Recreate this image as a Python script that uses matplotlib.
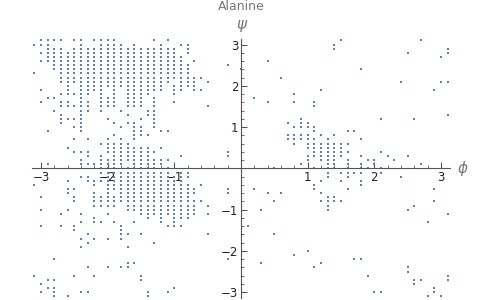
import numpy as np
import matplotlib
matplotlib.use("Agg")
import matplotlib.pyplot as plt
from matplotlib.ticker import MultipleLocator, FixedLocator

title = "Alanine"
x_label = "ϕ"
y_label = "ψ"
tick_values = [-3, -2, -1, 1, 2, 3]
tick_labels = ["−3", "−2", "−1", "1", "2", "3"]

# psi value -> list of phi values (data rounded to 0.1 rad)
rows = {
    3.1: [-3.0, -2.9, -2.8, -2.7, -2.5, -2.4, -2.2, -2.1, -2.0, -1.9, -1.3, -1.1, 1.5, 2.7],
    3.0: [-3.1, -3.0, -2.9, -2.4, -2.1, -2.0, -1.9, -1.8, -1.6, -1.2, -0.9, -0.8, 1.4],
    2.9: [-2.9, -2.8, -2.7, -2.5, -2.4, -2.3, -2.2, -2.1, -2.0, -1.9, -1.8, -1.7, -1.6, -1.5,
          -1.4, -1.3, -1.2, -1.1, -1.0, -0.8, 1.4, 3.1],
    2.8: [-3.0, -2.9, -2.8, -2.7, -2.6, -2.5, -2.4, -2.3, -2.2, -2.1, -2.0, -1.9, -1.8, -1.7,
          -1.6, -1.5, -1.4, -1.3, -1.2, -1.1, -1.0, -0.8, 2.5, 3.1],
    2.7: [-2.9, -2.8, -2.7, -2.6, -2.5, -2.4, -2.3, -2.2, -2.1, -2.0, -1.9, -1.8, -1.7, -1.6,
          -1.5, -1.4, -1.3, -1.2, -1.1, -1.0, -0.9, 3.0],
    2.6: [-3.0, -2.9, -2.8, -2.7, -2.6, -2.5, -2.4, -2.3, -2.2, -2.1, -2.0, -1.9, -1.8, -1.7,
          -1.6, -1.5, -1.4, -1.3, -1.2, -1.1, -1.0, -0.9, -0.7, 0.4],
    2.5: [-2.8, -2.7, -2.6, -2.5, -2.4, -2.3, -2.2, -2.1, -2.0, -1.9, -1.8, -1.7, -1.6, -1.5,
          -1.4, -1.3, -1.2, -1.1, -1.0, -0.9, -0.8, -0.2],
    2.4: [-2.8, -2.7, -2.6, -2.5, -2.4, -2.3, -2.2, -2.1, -2.0, -1.9, -1.8, -1.7, -1.6, -1.5,
          -1.4, -1.3, -1.2, -1.1, -1.0, -0.9, -0.8, 0.0, 1.8],
    2.3: [-3.1, -2.7, -2.6, -2.5, -2.4, -2.3, -2.2, -2.1, -2.0, -1.9, -1.8, -1.7, -1.6, -1.5,
          -1.4, -1.3, -1.2, -1.1, -1.0, -0.9, -0.8],
    2.2: [-2.7, -2.6, -2.5, -2.4, -2.3, -2.2, -2.1, -2.0, -1.9, -1.8, -1.7, -1.6, -1.5, -1.4,
          -1.3, -1.2, -1.1, -1.0, -0.9, -0.8, -0.7, -0.6, 0.6],
    2.1: [-2.7, -2.6, -2.5, -2.4, -2.3, -2.2, -2.1, -2.0, -1.9, -1.8, -1.7, -1.6, -1.5, -1.4,
          -1.3, -1.2, -1.1, -0.9, -0.8, -0.7, -0.5, 2.4, 3.0, 3.1],
    2.0: [-2.6, -2.4, -2.3, -2.2, -2.1, -2.0, -1.9, -1.8, -1.7, -1.6, -1.5, -1.4, -1.3, -1.2,
          -1.0, -0.9, -0.8, -0.7],
    1.9: [-3.0, -2.6, -2.4, -2.3, -2.2, -2.1, -1.9, -1.7, -1.6, -1.5, -1.4, -1.3, -1.2, -1.0,
          -0.9, -0.7, -0.6, 1.2, 2.9],
    1.8: [-2.7, -2.6, -2.5, -2.4, -2.3, -2.1, -1.9, -1.7, -1.6, -1.5, -1.4, -1.0, 0.8],
    1.7: [-2.9, -2.8, -2.4, -2.1, -2.0, -1.9, -1.7, -1.6, -1.5, -1.3, 0.2],
    1.6: [-3.0, -2.7, -2.6, -2.4, -2.3, -2.1, -2.0, -1.9, -1.7, -1.6, -1.5, -1.3, -1.0, 0.4,
          0.8, 1.1],
    1.5: [-2.7, -2.6, -2.5, -2.4, -2.3, -2.1, -2.0, -1.9, -1.7, -1.6, -1.5, -1.3, -0.5, 1.1],
    1.4: [-2.8, -2.4, -2.3, -2.1, -1.8, -1.4, -1.3],
    1.3: [-2.7, -2.4, -1.7, -1.4, -1.3, 3.1],
    1.2: [-2.7, -2.6, -2.5, -2.4, -2.0, -1.5, -1.3, 0.9, 2.1, 2.6],
    1.1: [-2.7, -2.4, -1.9, -1.7, -1.6, -1.3, 0.7, 0.9, 1.0],
    1.0: [-2.5, -2.4, -1.8, -1.6, -1.5, -1.3, 0.8, 0.9, 1.0, 1.1],
    0.9: [-2.9, -2.4, -1.6, -1.5, -1.2, -1.1, -0.1, 1.1, 1.6, 1.7],
    0.8: [-1.9, -1.6, -1.5, -1.4, 0.7, 0.8, 0.9, 1.0, 1.2, 1.4],
    0.7: [-2.5, -2.3, -2.0, -1.8, -1.6, 0.7, 0.8, 0.9, 1.0, 1.1, 1.3, 1.8],
    0.6: [-2.1, -2.0, -1.9, -1.8, -1.7, 0.8, 1.0, 1.1, 1.2, 1.3, 1.4, 1.5, 1.6],
    0.5: [-2.6, -2.0, -1.9, -1.8, -1.7, -1.6, -1.5, -1.4, -1.2, 1.0, 1.1, 1.2, 1.3, 1.4, 1.5],
    0.4: [-2.5, -2.4, -2.3, -2.0, -1.9, -1.8, -1.7, -1.6, -1.5, -1.4, -1.3, -0.2, 1.1, 1.2,
          1.3, 1.4, 1.5, 1.6, 2.1],
    0.3: [-2.3, -2.1, -1.9, -1.8, -1.7, -1.6, -1.5, -1.4, -0.9, -0.2, 1.0, 1.1, 1.2, 1.3,
          1.4, 1.5, 1.8, 2.2, 2.5],
    0.2: [-2.4, -2.1, -2.0, -1.9, -1.8, -1.7, -1.6, -1.5, -1.4, -1.3, -1.2, -1.1, 1.0, 1.2,
          1.3, 1.4, 1.6, 1.9, 2.0, 2.3],
    0.1: [-2.9, -2.4, -2.3, -2.2, -2.1, -2.0, -1.9, -1.8, -1.6, -1.5, -1.4, -1.3, -1.2, 0.9,
          1.3, 1.4, 1.6, 1.8, 2.0, 2.7],
    0.0: [-2.1, -2.0, -1.9, -1.7, -1.6, -1.5, -1.4, -1.3, -1.1, 0.5, 1.1, 1.3, 1.4, 1.6,
          1.8, 1.9, 2.1],
    -0.1: [-2.1, -2.0, -1.9, -1.8, -1.7, -1.6, -1.5, -1.4, -1.3, -1.2, -1.1, -0.9, -0.8, 1.3,
           1.5, 1.6, 1.7, 1.8, 2.1],
    -0.2: [-2.4, -2.3, -2.0, -1.9, -1.8, -1.7, -1.6, -1.5, -1.4, -1.3, -1.2, -1.1, -1.0, -0.9,
           -0.8, 1.3, 1.6, 2.4],
    -0.3: [-2.6, -2.3, -2.2, -2.1, -2.0, -1.9, -1.8, -1.7, -1.6, -1.5, -1.4, -1.3, -1.2, -1.1,
           -1.0, -0.9, 1.2, 1.5, 1.8],
    -0.4: [-3.1, -2.2, -2.0, -1.9, -1.8, -1.7, -1.6, -1.5, -1.4, -1.3, -1.2, -1.1, -1.0, -0.9,
           -0.8, -0.6, 1.1, 1.8],
    -0.5: [-2.6, -2.5, -2.0, -1.9, -1.8, -1.7, -1.6, -1.5, -1.4, -1.3, -1.2, -1.1, -1.0, -0.9,
           -0.8, -0.7, -0.2, 0.2, 1.1, 1.6, 2.9],
    -0.6: [-2.6, -2.2, -2.0, -1.8, -1.7, -1.6, -1.5, -1.4, -1.3, -1.2, -1.1, -1.0, -0.9, -0.8,
           -0.7, -0.2, 0.4, 0.6, 1.2],
    -0.7: [-3.0, -2.5, -2.2, -2.1, -2.0, -1.9, -1.8, -1.7, -1.6, -1.5, -1.4, -1.3, -1.2, -1.1,
           -1.0, -0.9, -0.8, 1.3, 1.4],
    -0.8: [-2.5, -2.2, -2.1, -2.0, -1.9, -1.8, -1.7, -1.6, -1.5, -1.4, -1.3, -1.2, -1.1, -1.0,
           -0.9, -0.8, -0.7, -0.6, 0.5, 1.2, 1.3, 1.4, 1.5, 2.9],
    -0.9: [-2.2, -2.1, -2.0, -1.9, -1.7, -1.6, -1.5, -1.4, -1.3, -1.2, -1.1, -1.0, -0.9, -0.8,
           -0.7, -0.5, 1.3, 2.6],
    -1.0: [-3.0, -2.6, -1.7, -1.6, -1.5, -1.4, -1.3, -1.2, -1.1, -1.0, -0.9, -0.8, -0.7, 0.3,
           1.3, 2.5],
    -1.1: [-2.7, -2.4, -2.0, -1.5, -1.4, -1.3, -1.2, -1.1, -1.0, -0.9, -0.8, -0.7, -0.5, 3.1],
    -1.2: [-2.2, -1.4, -1.2, -1.0, -0.9, -0.8],
    -1.3: [-2.4, -2.2, -2.1, -1.9, -1.6, -1.2, -1.0, 2.8],
    -1.4: [-3.0, -2.7, -2.5, -1.8, -1.1, -1.0, -0.9, 0.1],
    -1.5: [-2.5, -1.8],
    -1.6: [-2.3, -1.8, -1.7, -1.5, -0.5, 0.5],
    -1.7: [-2.4, -2.2, -2.0, -1.8],
    -1.8: [-2.3, -1.3],
    -1.9: [-2.4, -1.7],
    -2.0: [1.0],
    -2.1: [0.8],
    -2.2: [-2.8, -0.2, 1.7, 1.8],
    -2.3: [-1.7, -1.6, 0.3, 1.2],
    -2.4: [-2.3, -2.0, -1.8, -1.7, 1.1, 2.5],
    -2.5: [2.5],
    -2.6: [-3.1, -2.5, -2.2, -1.5, 1.9, 3.1],
    -2.7: [-2.9, -2.8, -1.5, 2.6, 2.7, 3.1],
    -2.8: [-3.0, 2.6],
    -2.9: [-2.9, -2.8, -1.0, 2.9],
    -3.0: [-3.0, -2.8, -2.4, -2.3, -1.4, -1.1, 2.0, 2.1, 2.9],
    -3.1: [-2.8, -2.6, -1.4, 2.8, 3.0],
}

phi = []
psi = []
for ps, phis in rows.items():
    for ph in phis:
        phi.append(ph)
        psi.append(ps)

point_color = "#5E81B5"
text_gray = "#555555"
axis_gray = "#555555"

fig = plt.figure(figsize=(5, 3), dpi=100)
ax = fig.add_axes([0.0634, 0.0067, 0.837, 0.864])
ax.plot(phi, psi, linestyle="none", marker="s", markersize=1.6,
        markeredgewidth=0, color=point_color)

ax.set_xlim(-3.14, 3.14)
ax.set_ylim(-3.14, 3.14)

for side in ["top", "right"]:
    ax.spines[side].set_visible(False)
ax.spines["left"].set_position(("data", 0))
ax.spines["bottom"].set_position(("data", 0))
for side in ["left", "bottom"]:
    ax.spines[side].set_color(axis_gray)
    ax.spines[side].set_linewidth(0.8)

ax.xaxis.set_major_locator(FixedLocator(tick_values))
ax.yaxis.set_major_locator(FixedLocator(tick_values))
ax.set_xticklabels(tick_labels)
ax.set_yticklabels(tick_labels)
ax.xaxis.set_minor_locator(MultipleLocator(0.2))
ax.yaxis.set_minor_locator(MultipleLocator(0.2))
ax.tick_params(which="major", direction="in", length=4, width=0.8, color=axis_gray,
               labelsize=8.5, labelcolor="#222222", pad=2)
ax.tick_params(which="minor", direction="in", length=2.2, width=0.6, color=axis_gray)

fig.text(463 / 500, 1 - 169 / 300, x_label, ha="center", va="center",
         fontsize=11, style="italic", color="#777777")
fig.text(241 / 500, 1 - 25 / 300, y_label, ha="center", va="center",
         fontsize=11, style="italic", color="#777777")
fig.text(241 / 500, 1 - 7 / 300, title, ha="center", va="center",
         fontsize=9, color="#777777")

fig.savefig("out.png", dpi=100)
